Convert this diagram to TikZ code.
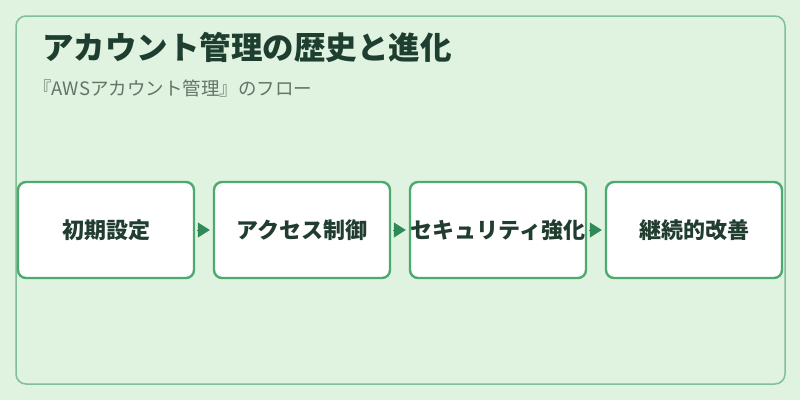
\documentclass[tikz,border=0pt]{standalone}
\usepackage{fontspec}
\setmainfont{Noto Sans CJK JP}
\newfontfamily\cjk{Noto Sans CJK JP}
\usetikzlibrary{arrows.meta}
\definecolor{bgc}{HTML}{E0F2E0}
\definecolor{framec}{HTML}{80BF98}
\definecolor{boxc}{HTML}{4DAA6E}
\definecolor{arrc}{HTML}{2E8B57}
\definecolor{titlec}{HTML}{1E3F30}
\definecolor{textc}{HTML}{213D30}
\definecolor{subc}{HTML}{627668}
\tikzset{
  stepbox/.style={draw=boxc, line width=2.4pt, fill=white, rounded corners=8pt,
    minimum width=176pt, minimum height=96pt, inner sep=0pt,
    font=\cjk\fontsize{22}{24}\selectfont\bfseries, text=textc},
  flowarrow/.style={draw=arrc, line width=1pt, -{Triangle[length=12pt,width=15pt]}, shorten <=2pt, shorten >=3pt}
}
\begin{document}
\begin{tikzpicture}[x=1pt,y=-1pt]
\useasboundingbox (0,0) rectangle (800,400);
\fill[bgc] (0,0) rectangle (800,400);
\draw[framec, line width=1.5pt, rounded corners=10pt] (16,16) rectangle (785,384);
\node[anchor=base west, text=titlec, font=\cjk\fontsize{31.5}{34}\selectfont\bfseries, inner sep=0pt] (title) at (42,59) {アカウント管理の歴史と進化};
\node[anchor=base west, text=subc, font=\cjk\fontsize{18.5}{20}\selectfont, inner sep=0pt] (sub) at (33,95) {『AWSアカウント管理』のフロー};
\node[stepbox] (b1) at (106,230) {初期設定};
\node[stepbox] (b2) at (302,230) {アクセス制御};
\node[stepbox] (b3) at (498,230) {セキュリティ強化};
\node[stepbox] (b4) at (694,230) {継続的改善};
\draw[flowarrow] (b1.east) -- (b2.west);
\draw[flowarrow] (b2.east) -- (b3.west);
\draw[flowarrow] (b3.east) -- (b4.west);
\end{tikzpicture}
\end{document}
